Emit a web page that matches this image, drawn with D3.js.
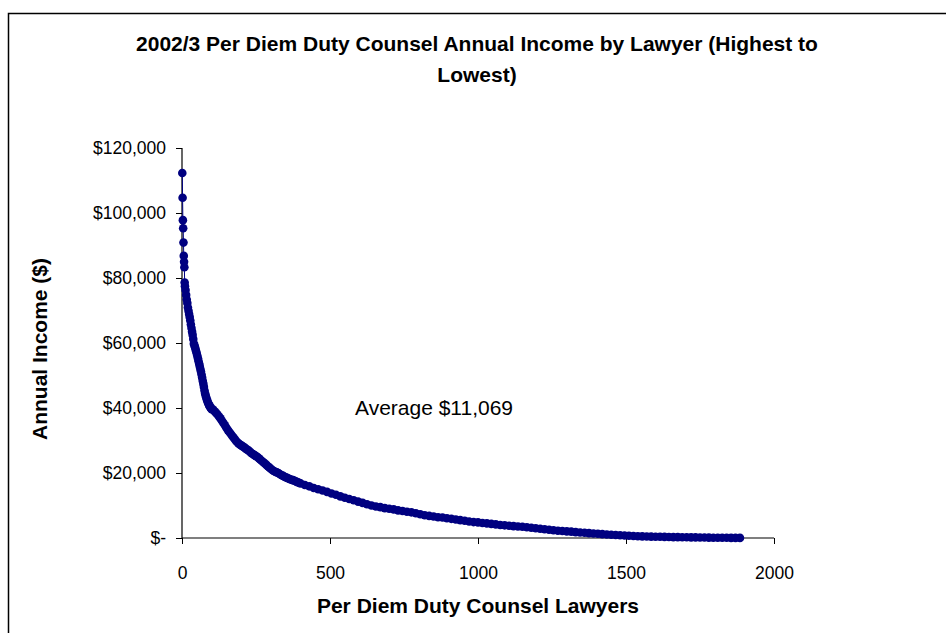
<!DOCTYPE html>
<html>
<head>
<meta charset="utf-8">
<script src="https://cdn.jsdelivr.net/npm/d3@7"></script>
<style>
  html, body { margin: 0; padding: 0; background: #fff; }
  svg { display: block; font-family: "Liberation Sans", Arial, sans-serif; }
</style>
</head>
<body>
<svg id="chart" width="946" height="633"></svg>
<script>
// ---- Data ----
const titleLines = ["2002/3 Per Diem Duty Counsel Annual Income by Lawyer (Highest to", "Lowest)"];
const xAxisTitle = "Per Diem Duty Counsel Lawyers";
const yAxisTitle = "Annual Income ($)";
const annotation = "Average $11,069";
const xTicks = [0, 500, 1000, 1500, 2000];
const yTicks = [0, 20000, 40000, 60000, 80000, 100000, 120000];

// lawyer rank (highest to lowest) at sampled positions
const lawyerRank = [
  1,2,3,4,5,6,7,8,9,
  10,12,14,16,18,20,22,24,26,28,30,32,34,36,38,40,42,44,46,48,50,52,54,56,58,60,
  62,64,66,68,70,72,74,76,78,80,82,84,86,88,90,92,94,96,98,100,
  105,110,115,120,125,130,135,140,145,150,155,160,165,170,175,180,185,190,195,200,
  205,210,215,220,225,230,235,240,245,250,255,260,265,270,275,280,285,290,295,300,
  305,310,315,320,325,330,335,340,345,350,355,360,365,370,375,380,385,390,395,400,
  415,430,445,460,475,490,505,520,535,550,565,580,595,610,625,640,655,670,685,700,
  715,730,745,760,775,790,805,820,835,850,865,880,895,910,925,940,955,970,985,1000,
  1015,1030,1045,1060,1075,1090,1105,1120,1135,1150,1165,1180,1195,1210,1225,1240,1255,1270,1285,1300,
  1315,1330,1345,1360,1375,1390,1405,1420,1435,1450,1465,1480,1495,1510,1525,1540,1555,1570,1585,1600,
  1615,1630,1645,1660,1675,1690,1705,1720,1735,1750,1765,1780,1795,1810,1825,1840,1855,1870,1885
];
// annual income ($) for each sampled lawyer rank
const annualIncome = [
  112300,104700,97800,95300,90900,86800,85000,83300,78600,
  77500,76300,74800,73400,72300,70900,69900,68900,68000,66900,65700,64600,63500,62500,61200,59800,59300,58700,58000,57400,56700,56000,55200,54400,53600,52800,
  52000,51200,50300,49400,48400,47500,46500,45400,44500,43800,43200,42600,42100,41600,41200,40800,40500,40200,39900,39600,
  39500,39000,38500,38000,37400,36800,36100,35400,34700,33900,33200,32600,32000,31400,30800,30200,29600,29200,28800,28500,
  28200,27900,27500,27200,26900,26500,26100,25800,25500,25200,24900,24500,24100,23700,23300,22900,22500,22100,21700,21300,
  20900,20600,20400,20200,20000,19700,19400,19200,18900,18700,18500,18300,18100,17900,17800,17600,17400,17200,17000,16800,
  16300,15900,15400,15000,14600,14200,13700,13300,12800,12400,12000,11600,11200,10800,10400,10000,9700,9500,9200,9000,
  8800,8500,8300,8100,7900,7600,7300,7000,6800,6600,6400,6300,6100,5900,5700,5500,5300,5100,4900,4800,
  4600,4500,4350,4200,4000,3900,3750,3650,3550,3450,3300,3150,3000,2850,2700,2550,2400,2250,2150,2050,
  1950,1800,1700,1600,1500,1400,1300,1200,1100,1000,920,830,750,680,620,560,510,470,430,400,
  370,340,310,280,260,240,220,200,180,160,140,120,100,90,70,60,50,40,30
];

const points = lawyerRank.map((r, i) => ({ rank: r, income: annualIncome[i] }));

// ---- Layout ----
const svg = d3.select("#chart");
const W = 946, H = 633;
const plot = { left: 182, right: 774, top: 148, bottom: 538 };
const navy = "#000080";

// outer chart border
svg.append("rect")
  .attr("x", 8.5).attr("y", 13.5)
  .attr("width", W + 20).attr("height", H + 20)
  .attr("fill", "#fff").attr("stroke", "#000").attr("stroke-width", 1.5);

const x = d3.scaleLinear().domain([0, 2000]).range([plot.left, plot.right]);
const y = d3.scaleLinear().domain([0, 120000]).range([plot.bottom, plot.top]);

// Title
const title = svg.append("text")
  .attr("text-anchor", "middle")
  .attr("font-weight", "bold")
  .attr("font-size", 21)
  .attr("fill", "#000");
titleLines.forEach((t, i) => {
  title.append("tspan").attr("x", 477).attr("y", 51 + i * 31).text(t);
});

// Axes
const fmtY = v => v === 0 ? "$-" : d3.format("$,")(v);
const yAxis = d3.axisLeft(y).tickValues(yTicks).tickFormat(fmtY).tickSize(6).tickPadding(10);
const xAxis = d3.axisBottom(x).tickValues(xTicks).tickFormat(d3.format("d")).tickSize(6).tickPadding(23);

const gy = svg.append("g").attr("transform", `translate(${plot.left},0)`).call(yAxis);
const gx = svg.append("g").attr("transform", `translate(0,${plot.bottom})`).call(xAxis);

[gx, gy].forEach(g => {
  g.select(".domain").attr("stroke", "#000").attr("stroke-width", 1.2);
  g.selectAll(".tick line").attr("stroke", "#000");
  g.selectAll(".tick text")
    .attr("font-family", "'Liberation Sans', Arial, sans-serif")
    .attr("font-size", 17.5).attr("fill", "#000");
});
// Excel-style: domain without outer tick caps
gy.select(".domain").attr("d", `M0,${plot.top}V${plot.bottom}`);
gx.select(".domain").attr("d", `M${plot.left},0H${plot.right}`);

// Axis titles
svg.append("text")
  .attr("x", 478).attr("y", 613)
  .attr("text-anchor", "middle")
  .attr("font-weight", "bold").attr("font-size", 21)
  .text(xAxisTitle);

svg.append("text")
  .attr("transform", `translate(47,349) rotate(-90)`)
  .attr("text-anchor", "middle")
  .attr("font-weight", "bold").attr("font-size", 21)
  .text(yAxisTitle);

// Series: thin connecting line + round markers
const line = d3.line().x(d => x(d.rank)).y(d => y(d.income));
svg.append("path")
  .datum(points)
  .attr("d", line)
  .attr("fill", "none")
  .attr("stroke", navy)
  .attr("stroke-width", 1);

svg.append("g")
  .selectAll("circle")
  .data(points)
  .join("circle")
  .attr("cx", d => x(d.rank))
  .attr("cy", d => y(d.income))
  .attr("r", 4.3)
  .attr("fill", navy);

// Annotation
svg.append("text")
  .attr("x", 355).attr("y", 415)
  .attr("font-size", 21)
  .attr("fill", "#000")
  .text(annotation);
</script>
</body>
</html>
